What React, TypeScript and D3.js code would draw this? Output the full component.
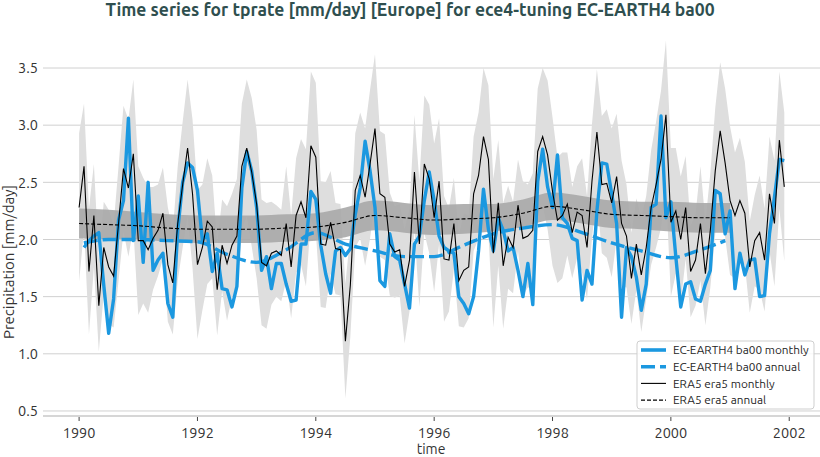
import * as d3 from "d3";

// ERA5 monthly means, Jan 1990 .. Dec 2001 (mm/day)
const era5Monthly = [
  2.28, 2.64, 1.72, 2.21, 1.42, 1.93, 1.76, 1.68, 2.14, 2.62, 2.45, 2.75,
  1.99, 1.99, 1.91, 2.01, 2.08, 2.23, 1.78, 1.62, 2.14, 2.48, 2.8, 2.4,
  1.78, 1.93, 2.16, 2.11, 1.56, 1.95, 1.79, 1.95, 2.03, 2.64, 2.8, 2.59,
  2.31, 1.8, 1.77, 1.88, 1.9, 1.86, 2.14, 1.76, 2.21, 2.33, 2.19, 2.82,
  2.72, 1.96, 1.95, 2.15, 1.92, 1.91, 1.11, 1.6, 2.43, 2.56, 2.37, 2.66,
  2.97, 2.4, 2.37, 1.96, 1.89, 1.91, 1.59, 1.82, 2.59, 1.96, 2.66, 2.53,
  2.19, 2.51, 1.83, 1.82, 2.14, 1.64, 1.73, 1.76, 2.4, 2.56, 2.9, 2.7,
  1.88, 2.32, 1.77, 2.02, 1.93, 2.3, 2.01, 2.03, 2.08, 2.77, 2.9, 2.74,
  2.42, 2.17, 2.21, 2.31, 2.06, 2.24, 2.21, 1.93, 2.51, 2.94, 2.48, 2.49,
  2.32, 2.55, 2.14, 2.03, 1.66, 1.96, 1.69, 1.93, 2.28, 2.48, 2.7, 3.09,
  2.15, 2.25, 2.0, 2.28, 1.72, 1.82, 2.14, 1.7, 2.08, 2.6, 2.95, 2.67,
  2.34, 2.21, 2.34, 2.23, 1.76, 1.99, 2.06, 1.82, 2.4, 2.14, 2.87, 2.46,
];

// EC-EARTH4 ba00 monthly means, Feb 1990 .. Dec 2001
const modelMonthly = [
  1.93, 1.99, 2.03, 2.06, 1.6, 1.18, 1.48, 2.17, 2.34, 3.06, 1.99,
  2.38, 1.8, 2.5, 1.73, 1.82, 1.88, 1.44, 1.32, 2.08, 2.5, 2.67, 2.63,
  2.43, 1.99, 2.05, 1.72, 1.88, 1.57, 1.56, 1.41, 1.59, 2.45, 2.77, 2.6,
  2.28, 1.73, 1.85, 1.57, 1.79, 1.79, 1.61, 1.46, 1.47, 1.96, 1.96, 2.42,
  2.35, 1.95, 1.7, 1.53, 1.9, 1.93, 1.86, 1.92, 2.22, 2.45, 2.86, 2.6,
  2.28, 1.64, 1.59, 2.05, 1.85, 1.82, 1.61, 1.4, 1.96, 2.03, 2.34, 2.59,
  2.34, 2.03, 1.93, 1.9, 1.88, 1.5, 1.44, 1.35, 1.5, 1.9, 2.44, 2.09,
  1.9, 2.19, 2.08, 1.9, 1.93, 1.73, 1.5, 1.79, 1.43, 2.51, 2.79, 2.46,
  2.28, 2.74, 2.19, 2.14, 2.01, 1.99, 1.47, 1.73, 1.61, 2.25, 2.67, 2.66,
  2.4, 2.14, 1.32, 1.93, 1.85, 1.67, 1.38, 1.61, 2.28, 2.31, 3.08, 2.19,
  2.33, 1.85, 1.41, 1.61, 1.63, 1.48, 1.46, 1.61, 1.73, 2.43, 2.4, 2.05,
  2.25, 1.57, 1.88, 1.69, 1.82, 1.83, 1.5, 1.51, 2.05, 2.37, 2.7, 2.69,
];

// half-width of the ERA5 monthly spread, by calendar month
const era5MonthSpread = [0.65, 0.55, 0.55, 0.45, 0.4, 0.4, 0.5, 0.45, 0.5, 0.55, 0.6, 0.65];

// 12-month running means
const era5AnnualTime = [
  1990, 1990.5, 1991, 1991.5, 1992, 1992.5, 1993, 1993.5, 1994, 1994.5, 1995, 1995.5,
  1996, 1996.5, 1997, 1997.5, 1998, 1998.5, 1999, 1999.5, 2000, 2000.5, 2001,
];
const era5Annual = [
  2.14, 2.13, 2.12, 2.1, 2.09, 2.09, 2.09, 2.1, 2.11, 2.15, 2.21, 2.19,
  2.17, 2.18, 2.19, 2.23, 2.29, 2.26, 2.22, 2.21, 2.2, 2.19, 2.19,
];
const era5AnnualStd = [
  0.13, 0.13, 0.12, 0.12, 0.12, 0.12, 0.12, 0.12, 0.12, 0.13, 0.13, 0.13,
  0.13, 0.13, 0.12, 0.12, 0.12, 0.12, 0.12, 0.12, 0.13, 0.13, 0.13,
];

const modelAnnualTime = [
  1990.08, 1990.5, 1991, 1991.5, 1992, 1992.5, 1993, 1993.5, 1994, 1994.5, 1995, 1995.5,
  1996, 1996.5, 1997, 1997.5, 1998, 1998.5, 1999, 1999.5, 2000, 2000.5, 2000.92,
];
const modelAnnual = [
  1.97, 2.0, 2.0, 1.99, 1.98, 1.87, 1.8, 1.91, 2.06, 1.96, 1.9, 1.85,
  1.85, 1.95, 2.05, 2.1, 2.13, 2.06, 1.97, 1.9, 1.84, 1.91, 1.99,
];

const xTicks = [1990, 1992, 1994, 1996, 1998, 2000, 2002];
const yTicks = [0.5, 1.0, 1.5, 2.0, 2.5, 3.0, 3.5];

const legendItems = [
  { label: "EC-EARTH4 ba00 monthly", color: "#1b98e0", width: 3.6, dash: "" },
  { label: "EC-EARTH4 ba00 annual", color: "#1b98e0", width: 3.6, dash: "14,5" },
  { label: "ERA5 era5 monthly", color: "#000", width: 1.1, dash: "" },
  { label: "ERA5 era5 annual", color: "#000", width: 1.1, dash: "4,2" },
];

const W = 820;
const H = 457;
const left = 43;
const right = 820;
const bottom = 416;
const top = 48;
const BLUE = "#1b98e0";
const FONT = 'Ubuntu, "Open Sans", sans-serif';

type P = { t: number; v: number; s?: number };

export default function App() {
  const x = d3.scaleLinear().domain([1989.39, 2002.52]).range([left, right]);
  const y = d3.scaleLinear().domain([0.456, 3.675]).range([bottom, top]);

  const era5: P[] = era5Monthly.map((v, i) => ({ t: 1990 + i / 12, v, s: era5MonthSpread[i % 12] }));
  const model: P[] = modelMonthly.map((v, i) => ({ t: 1990 + (i + 1) / 12, v }));
  const era5Ann: P[] = era5Annual.map((v, i) => ({ t: era5AnnualTime[i], v, s: era5AnnualStd[i] }));
  const modelAnn: P[] = modelAnnual.map((v, i) => ({ t: modelAnnualTime[i], v }));

  const line = d3.line<P>().x((d) => x(d.t)).y((d) => y(d.v));
  const smooth = d3.line<P>().x((d) => x(d.t)).y((d) => y(d.v)).curve(d3.curveMonotoneX);
  const band = d3
    .area<P>()
    .x((d) => x(d.t))
    .y0((d) => y(d.v - (d.s ?? 0)))
    .y1((d) => y(d.v + (d.s ?? 0)));
  const smoothBand = d3
    .area<P>()
    .x((d) => x(d.t))
    .y0((d) => y(d.v - (d.s ?? 0)))
    .y1((d) => y(d.v + (d.s ?? 0)))
    .curve(d3.curveMonotoneX);

  return (
    <svg width={W} height={H} style={{ position: "absolute", left: 0, top: 0, background: "#fff" }}>
      <text x={410} y={16} textAnchor="middle" fontFamily={FONT} fontWeight={700} fontSize={17.5} fill="#2f4f4f">
        Time series for tprate [mm/day] [Europe] for ece4-tuning EC-EARTH4 ba00
      </text>

      {/* grid */}
      {yTicks.map((t) => (
        <g key={t}>
          <line x1={left} x2={right} y1={y(t)} y2={y(t)} stroke="#d0d0d0" strokeWidth={1} />
          <text x={38} y={y(t)} dy="0.36em" textAnchor="end" fontFamily={FONT} fontSize={14.5} fill="#333">
            {t.toFixed(1)}
          </text>
        </g>
      ))}

      {/* bands */}
      <path d={band(era5) ?? ""} fill="#dedede" />
      <path d={smoothBand(era5Ann) ?? ""} fill="#a9a9a9" fillOpacity={0.9} />

      {/* lines */}
      <path d={line(model) ?? ""} fill="none" stroke={BLUE} strokeWidth={3.4} strokeLinejoin="round" />
      <path d={smooth(modelAnn) ?? ""} fill="none" stroke={BLUE} strokeWidth={3.4} strokeDasharray="14,5" />
      <path d={line(era5) ?? ""} fill="none" stroke="#000" strokeWidth={1.1} />
      <path d={smooth(era5Ann) ?? ""} fill="none" stroke="#000" strokeWidth={1.1} strokeDasharray="4,2" />

      {/* x axis */}
      <line x1={left} x2={right} y1={bottom} y2={bottom} stroke="#c8c8c8" strokeWidth={1.3} />
      {xTicks.map((t) => (
        <g key={t}>
          <line x1={x(t)} x2={x(t)} y1={bottom + 1} y2={bottom + 5} stroke="#444" strokeWidth={1} />
          <text x={x(t)} y={438} textAnchor="middle" fontFamily={FONT} fontSize={14.5} fill="#333">
            {t}
          </text>
        </g>
      ))}
      <text x={431} y={454} textAnchor="middle" fontFamily={FONT} fontSize={14} fill="#333">
        time
      </text>
      <text
        transform={`translate(14,262) rotate(-90)`}
        textAnchor="middle"
        fontFamily={FONT}
        fontSize={15}
        fill="#333"
      >
        Precipitation [mm/day]
      </text>

      {/* legend */}
      <rect x={637} y={341} width={177} height={68} rx={3} fill="#fff" fillOpacity={0.85} stroke="#cfcfcf" />
      {legendItems.map((d, i) => {
        const ly = 350 + i * 16.7;
        return (
          <g key={d.label}>
            <line x1={641} x2={666} y1={ly} y2={ly} stroke={d.color} strokeWidth={d.width} strokeDasharray={d.dash} />
            <text x={673} y={ly} dy="0.36em" fontFamily={FONT} fontSize={11.8} fill="#262626">
              {d.label}
            </text>
          </g>
        );
      })}
    </svg>
  );
}
